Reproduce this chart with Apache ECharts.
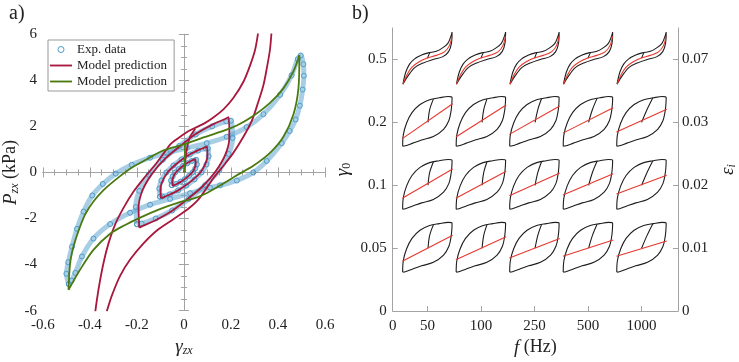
<!DOCTYPE html>
<html>
<head>
<meta charset="utf-8">
<script src="https://cdn.jsdelivr.net/npm/echarts@6/dist/echarts.min.js"></script>
<style>
  html, body { margin: 0; padding: 0; background: #fff; }
  #chart { width: 739px; height: 362px; }
</style>
</head>
<body>
<div id="chart"></div>
<script>
// ---------- panel a) : P_zx vs gamma_zx ----------
// experimental data, one closed loop per strain amplitude
const expLoop05 = [[-0.49,-4.85],[-0.5,-4.4],[-0.492,-3.9],[-0.476,-3.22],[-0.455,-2.45],[-0.427,-1.7],[-0.39,-1.0],[-0.345,-0.5],[-0.29,-0.05],[-0.222,0.33],[-0.144,0.64],[-0.073,0.85],[0.012,1.06],[0.097,1.27],[0.182,1.55],[0.267,1.97],[0.338,2.53],[0.409,3.37],[0.458,4.22],[0.484,4.92],[0.497,5.08],[0.508,4.7],[0.51,4.2],[0.505,3.6],[0.493,2.9],[0.475,2.3],[0.45,1.8],[0.416,1.27],[0.352,0.5],[0.295,0.0],[0.225,-0.35],[0.154,-0.56],[0.111,-0.66],[0.026,-0.9],[-0.059,-1.15],[-0.144,-1.4],[-0.229,-1.75],[-0.314,-2.24],[-0.385,-2.87],[-0.434,-3.65],[-0.462,-4.36],[-0.478,-4.7],[-0.49,-4.85]];
const expLoop02 = [[-0.2,-2.25],[-0.205,-1.5],[-0.19,-0.8],[-0.15,-0.1],[-0.09,0.55],[-0.02,1.15],[0.05,1.65],[0.12,2.0],[0.18,2.22],[0.2,2.25],[0.207,1.5],[0.19,0.8],[0.15,0.1],[0.09,-0.55],[0.02,-1.15],[-0.05,-1.65],[-0.12,-2.0],[-0.18,-2.22],[-0.2,-2.25]];
const expLoop01 = [[-0.102,-1.05],[-0.105,-0.7],[-0.096,-0.35],[-0.075,0.0],[-0.045,0.3],[-0.01,0.57],[0.025,0.78],[0.06,0.95],[0.092,1.04],[0.102,1.05],[0.105,0.7],[0.096,0.35],[0.075,0.0],[0.045,-0.3],[0.01,-0.57],[-0.025,-0.78],[-0.06,-0.95],[-0.092,-1.04],[-0.102,-1.05]];
const expLoop005 = [[-0.052,-0.55],[-0.055,-0.35],[-0.048,-0.17],[-0.037,0.0],[-0.022,0.15],[-0.004,0.29],[0.014,0.4],[0.034,0.5],[0.052,0.55],[0.055,0.35],[0.048,0.17],[0.037,0.0],[0.022,-0.15],[0.004,-0.29],[-0.014,-0.4],[-0.034,-0.5],[-0.052,-0.55]];

// model (red)
const redBigUpper = [[-0.377,-6.03],[-0.363,-5.05],[-0.342,-3.92],[-0.321,-3.08],[-0.292,-2.24],[-0.257,-1.54],[-0.215,-0.84],[-0.172,-0.27],[-0.125,0.3],[-0.085,0.85],[-0.055,1.25],[-0.016,1.55],[0.026,1.83],[0.083,2.11],[0.125,2.39],[0.168,2.74],[0.21,3.23],[0.253,3.94],[0.281,4.64],[0.303,5.34],[0.317,6.18]];
const redBigLower = [[-0.328,-6.03],[-0.306,-5.33],[-0.271,-4.48],[-0.229,-3.78],[-0.172,-3.08],[-0.115,-2.52],[-0.045,-2.03],[0.016,-1.6],[0.055,-1.25],[0.085,-0.85],[0.125,-0.25],[0.168,0.29],[0.21,0.85],[0.253,1.55],[0.289,2.25],[0.317,3.09],[0.338,3.79],[0.352,4.5],[0.366,5.34],[0.373,6.18]];
const redLoop02 = [[-0.19,-2.4],[-0.193,-1.5],[-0.175,-0.75],[-0.135,-0.05],[-0.08,0.6],[-0.01,1.2],[0.055,1.7],[0.125,2.1],[0.175,2.32],[0.19,2.4],[0.193,1.5],[0.175,0.75],[0.135,0.05],[0.08,-0.6],[0.01,-1.2],[-0.055,-1.7],[-0.125,-2.1],[-0.175,-2.32],[-0.19,-2.4]];
const redLoop01 = [[-0.098,-1.12],[-0.1,-0.7],[-0.09,-0.35],[-0.07,0.0],[-0.04,0.3],[-0.005,0.58],[0.028,0.8],[0.064,0.98],[0.09,1.09],[0.098,1.12],[0.1,0.7],[0.09,0.35],[0.07,0.0],[0.04,-0.3],[0.005,-0.58],[-0.028,-0.8],[-0.064,-0.98],[-0.09,-1.09],[-0.098,-1.12]];
const redLoop005 = [[-0.048,-0.58],[-0.05,-0.36],[-0.045,-0.18],[-0.035,0.0],[-0.02,0.15],[-0.002,0.3],[0.014,0.41],[0.032,0.51],[0.045,0.57],[0.048,0.58],[0.05,0.36],[0.045,0.18],[0.035,0.0],[0.02,-0.15],[0.002,-0.3],[-0.014,-0.41],[-0.032,-0.51],[-0.045,-0.57],[-0.048,-0.58]];
const redInitial = [[0,0],[0.012,0.99],[0.026,1.55],[0.048,1.9]];

// model (green)
const greenUpper = [[-0.491,-5.1],[-0.484,-3.92],[-0.47,-3.22],[-0.448,-2.52],[-0.42,-1.82],[-0.385,-1.26],[-0.342,-0.77],[-0.285,-0.27],[-0.221,0.21],[-0.15,0.62],[-0.1,0.9],[-0.05,1.08],[0,1.22],[0.083,1.52],[0.154,1.76],[0.225,2.04],[0.296,2.46],[0.366,3.02],[0.423,3.65],[0.466,4.4],[0.491,5.09]];
const greenLower = [[-0.491,-5.1],[-0.441,-4.21],[-0.385,-3.36],[-0.314,-2.66],[-0.25,-2.28],[-0.186,-1.96],[-0.1,-1.58],[-0.03,-1.33],[0.05,-1.1],[0.1,-0.88],[0.155,-0.56],[0.22,-0.15],[0.295,0.29],[0.366,0.85],[0.423,1.55],[0.466,2.53],[0.487,3.65],[0.491,5.09]];
const greenInitial = [[0.004,0],[0.004,0.6],[0.004,1.22]];

// ---------- panel b) : loops per amplitude / frequency ----------
const fLabels = ['50', '100', '250', '500', '1000'];
const gammaLabels = ['0.05', '0.1', '0.2', '0.5'];
const epsLabels = ['0.01', '0.02', '0.03', '0.07'];

// loop outline relative to the cell centre (rows 0.05 .. 0.2)
const loopShape = [[-0.464,-0.38],[-0.452,-0.2],[-0.39,-0.01],[-0.29,0.155],[-0.14,0.285],[0.04,0.36],[0.22,0.39],[0.385,0.41],[0.459,0.396],[0.455,0.3],[0.44,0.18],[0.4,0.03],[0.3,-0.11],[0.11,-0.225],[-0.11,-0.28],[-0.275,-0.33],[-0.413,-0.373],[-0.464,-0.38]];
// initial loading branch, one per frequency
const innerBranch = [
  [[0.01,0.0],[0.04,0.2],[0.11,0.37]],
  [[0.02,0.0],[0.05,0.2],[0.11,0.37]],
  [[0.01,0.0],[0.06,0.2],[0.13,0.375]],
  [[0.01,0.0],[0.08,0.2],[0.17,0.385]],
  [[0.0,0.0],[0.1,0.2],[0.21,0.39]]
];
// red line end heights, rows 0.05 / 0.1 / 0.2, columns 50..1000 Hz
const RED_SPAN = 0.47;
const redLeft = [
  [-0.207,-0.182,-0.155,-0.129,-0.129],
  [-0.207,-0.207,-0.166,-0.155,-0.14],
  [-0.259,-0.233,-0.191,-0.171,-0.155]
];
const redRight = [
  [0.207,0.182,0.155,0.129,0.113],
  [0.259,0.222,0.197,0.182,0.16],
  [0.295,0.275,0.259,0.233,0.207]
];
// S shaped loops of the 0.5 row
const sLoop = [[-0.459,-0.393],[-0.405,-0.2],[-0.335,-0.075],[-0.24,0.01],[-0.11,0.07],[0.013,0.105],[0.165,0.13],[0.275,0.18],[0.38,0.255],[0.44,0.375],[0.459,0.435],[0.448,0.26],[0.395,0.125],[0.288,0.045],[0.105,0.0],[-0.079,-0.055],[-0.233,-0.125],[-0.33,-0.22],[-0.41,-0.32],[-0.459,-0.393]];
const sRed = [[-0.459,-0.393],[-0.385,-0.248],[-0.294,-0.125],[-0.171,-0.045],[-0.018,0.02],[0.165,0.065],[0.317,0.12],[0.409,0.22],[0.459,0.373]];
const sInner = [[0.0,0.02],[0.02,0.065],[0.045,0.11]];

// ---------- styles ----------
const SERIF = 'Liberation Serif';
const GRAY = '#a3a3a3';
const TXT = '#222';
const BLUE = '#4f9cc9';
const RED = '#a8173c';
const GREEN = '#4b7a10';
const LINE_ICON = 'path://M0,0 L12,0 L12,1 L0,1 Z';

const chart = echarts.init(document.getElementById('chart'));

const place = (pts, cx, cy) => pts.map(p => [cx + p[0], cy + p[1]]);

const richName = {
  g: { fontFamily: SERIF, fontSize: 19, fontStyle: 'italic', color: TXT, lineHeight: 20 },
  t: { fontFamily: SERIF, fontSize: 18, color: TXT, lineHeight: 20 },
  s: { fontFamily: SERIF, fontSize: 12, fontStyle: 'italic', color: TXT, verticalAlign: 'bottom', lineHeight: 9 },
  s0: { fontFamily: SERIF, fontSize: 12, color: TXT, verticalAlign: 'bottom', lineHeight: 9 }
};

const tickLabel = { color: TXT, fontFamily: SERIF, fontSize: 15 };

// panel a axes (box with ticks on all 4 sides)
const boxAxis = (extra) => Object.assign({
  type: 'value',
  gridIndex: 0,
  axisLine: { show: true, lineStyle: { color: GRAY, width: 1 } },
  axisTick: { show: true, inside: true, length: 5, lineStyle: { color: GRAY } },
  minorTick: { show: true, splitNumber: 4, length: 3, lineStyle: { color: GRAY } },
  splitLine: { show: false },
  minorSplitLine: { show: false }
}, extra);

const series = [];

// exp data
[expLoop05, expLoop02, expLoop01, expLoop005].forEach(d => {
  series.push({
    name: 'Exp. data', type: 'line', xAxisIndex: 0, yAxisIndex: 0,
    data: d, smooth: 0.3, symbol: 'circle', symbolSize: 5,
    showSymbol: true, showAllSymbol: true,
    lineStyle: { width: 5, color: 'rgba(95,165,208,0.55)' },
    itemStyle: { color: 'rgba(255,255,255,0)', borderColor: BLUE, borderWidth: 1 },
    z: 2
  });
});
// red model
[redBigUpper, redBigLower, redLoop02, redLoop01, redLoop005, redInitial].forEach(d => {
  series.push({
    name: 'Model prediction', type: 'line', xAxisIndex: 0, yAxisIndex: 0,
    data: d, smooth: 0.3, symbol: 'none', clip: true,
    lineStyle: { width: 1.8, color: RED }, itemStyle: { color: RED }, z: 3
  });
});
// green model
[greenUpper, greenLower, greenInitial].forEach(d => {
  series.push({
    name: 'Model prediction ', type: 'line', xAxisIndex: 0, yAxisIndex: 0,
    data: d, smooth: 0.3, symbol: 'none',
    lineStyle: { width: 1.8, color: GREEN }, itemStyle: { color: GREEN }, z: 4
  });
});

// panel b loops
const bLine = (d, color) => ({
  type: 'line', xAxisIndex: 2, yAxisIndex: 2, data: d, smooth: 0.35,
  symbol: 'none', silent: true,
  lineStyle: { width: 1.1, color: color }
});
for (let r = 0; r < 4; r++) {
  for (let c = 0; c < 5; c++) {
    const cx = c + 1, cy = r + 1;
    if (r < 3) {
      series.push(bLine(place(loopShape, cx, cy), '#1e1e1e'));
      series.push(bLine(place(innerBranch[c], cx, cy), '#1e1e1e'));
      series.push(bLine(place([[-RED_SPAN, redLeft[r][c]], [RED_SPAN, redRight[r][c]]], cx, cy), '#e6372d'));
    } else {
      series.push(bLine(place(sLoop, cx, cy), '#1e1e1e'));
      series.push(bLine(place(sInner, cx, cy), '#1e1e1e'));
      series.push(bLine(place(sRed, cx, cy), '#e6372d'));
    }
  }
}

const bAxisLine = { show: true, lineStyle: { color: GRAY, width: 1 } };
const bTick = { show: true, inside: true, length: 5, lineStyle: { color: GRAY }, customValues: [1, 2, 3, 4] };

const option = {
  animation: false,
  backgroundColor: '#fff',
  textStyle: { fontFamily: SERIF },
  grid: [
    { left: 42.7, top: 34.3, width: 282.3, height: 285 },
    { left: 392.7, top: 28, width: 289, height: 290 }
  ],
  legend: {
    left: 48, top: 40, orient: 'vertical',
    itemWidth: 22, itemHeight: 6, itemGap: 3,
    padding: [3, 4, 3, 2],
    borderColor: '#999', borderWidth: 1, backgroundColor: '#fff',
    selectedMode: false,
    textStyle: { fontFamily: SERIF, fontSize: 13, color: TXT },
    data: [
      { name: 'Exp. data', icon: 'circle', itemStyle: { color: 'rgba(255,255,255,0)', borderColor: BLUE, borderWidth: 1 } },
      { name: 'Model prediction', icon: LINE_ICON, itemStyle: { color: RED, borderWidth: 0 } },
      { name: 'Model prediction ', icon: LINE_ICON, itemStyle: { color: GREEN, borderWidth: 0 } }
    ]
  },
  xAxis: [
    boxAxis({
      min: -0.6, max: 0.6, interval: 0.2, position: 'bottom',
      axisLabel: Object.assign({ margin: 7 }, tickLabel),
      name: '{g|γ}{s|zx}', nameLocation: 'middle', nameGap: 19,
      nameTextStyle: { rich: richName }
    }),
    boxAxis({ min: -0.6, max: 0.6, interval: 0.2, position: 'top', axisLabel: { show: false } }),
    {
      type: 'value', gridIndex: 1, min: 0.35, max: 5.68,
      axisLine: bAxisLine,
      axisTick: Object.assign({}, bTick, { customValues: [1, 2, 3, 4, 5] }),
      splitLine: { show: false },
      axisLabel: Object.assign({
        margin: 7,
        customValues: [0.35, 1, 2, 3, 4, 5],
        formatter: v => (v < 0.5 ? '0' : fLabels[Math.round(v) - 1])
      }, tickLabel),
      name: '{g|f}{t| (Hz)}', nameLocation: 'middle', nameGap: 20,
      nameTextStyle: { rich: richName }
    }
  ],
  yAxis: [
    boxAxis({
      min: -6, max: 6, interval: 2, position: 'left',
      axisLabel: Object.assign({ margin: 6 }, tickLabel),
      name: '{g|P}{s|zx}{t| (kPa)}', nameLocation: 'middle', nameGap: 21, nameRotate: 90,
      nameTextStyle: { rich: richName }
    }),
    boxAxis({ min: -6, max: 6, interval: 2, position: 'right', axisLabel: { show: false } }),
    {
      type: 'value', gridIndex: 1, min: 0, max: 4.5, position: 'left',
      axisLine: bAxisLine, axisTick: bTick, splitLine: { show: false },
      axisLabel: Object.assign({
        margin: 6, customValues: [0, 1, 2, 3, 4],
        formatter: v => (v === 0 ? '0' : gammaLabels[v - 1])
      }, tickLabel),
      name: '{g|γ}{s0|0}', nameLocation: 'middle', nameGap: 40, nameRotate: 90,
      nameTextStyle: { rich: richName }
    },
    {
      type: 'value', gridIndex: 1, min: 0, max: 4.5, position: 'right',
      axisLine: bAxisLine, axisTick: bTick, splitLine: { show: false },
      axisLabel: Object.assign({
        margin: 4, customValues: [0, 1, 2, 3, 4],
        formatter: v => (v === 0 ? '0' : epsLabels[v - 1])
      }, tickLabel),
      name: '{g|ε}{s|i}', nameLocation: 'middle', nameGap: 40, nameRotate: 90,
      nameTextStyle: { rich: richName }
    }
  ],
  graphic: [
    { type: 'text', left: 9, top: 4, style: { text: 'a)', font: '20px Liberation Serif', fill: TXT } },
    { type: 'text', left: 352, top: 4, style: { text: 'b)', font: '20px Liberation Serif', fill: TXT } }
  ],
  series: series
};

chart.setOption(option);
</script>
</body>
</html>
